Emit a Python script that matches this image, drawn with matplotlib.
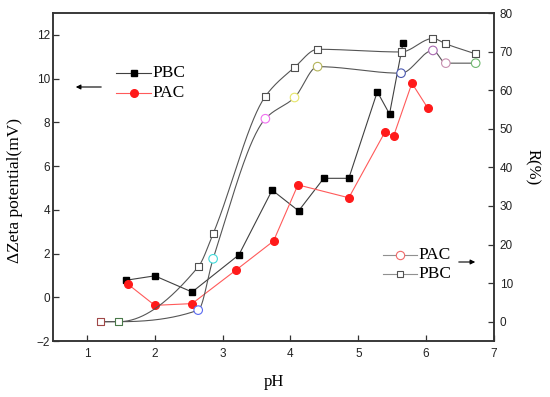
import numpy as np
import matplotlib
matplotlib.use('Agg')
import matplotlib.pyplot as plt
from matplotlib.lines import Line2D

# ---------------------------------------------------------------------------
# Data
# ---------------------------------------------------------------------------
# Delta zeta potential (left axis)
PBC_ZETA_PH = [1.58, 2.00, 2.55, 3.24, 3.73, 4.12, 4.49, 4.86, 5.28, 5.46, 5.66]
PBC_ZETA = [0.78, 0.98, 0.24, 1.94, 4.90, 3.95, 5.44, 5.44, 9.40, 8.38, 11.65]

PAC_ZETA_PH = [1.60, 2.00, 2.55, 3.20, 3.75, 4.11, 4.86, 5.39, 5.52, 5.79, 6.02]
PAC_ZETA = [0.61, -0.37, -0.29, 1.25, 2.57, 5.14, 4.55, 7.54, 7.37, 9.79, 8.67]

# Removal R (right axis)
R_PH = [1.20, 1.47, 2.64, 2.86, 3.63, 4.06, 4.40, 5.63, 6.10, 6.29, 6.73]
PBC_R = [0.0, 0.0, 14.2, 22.8, 58.4, 65.9, 70.6, 69.9, 73.4, 72.0, 69.4]
PAC_R = [0.0, 0.0, 3.0, 16.3, 52.6, 58.1, 66.1, 64.4, 70.3, 67.0, 67.0]

# marker colours used in the original (Origin colour-mapped symbols)
PBC_R_EDGE = ['#a04848', '#4a7a4a', '#505050', '#505050', '#505050', '#505050',
              '#505050', '#505050', '#505050', '#505050', '#505050']
PAC_R_EDGE = ['#a04848', '#4a7a4a', '#5a6af0', '#40dada', '#f070f0', '#e6e66a',
              '#b4b45a', '#4a58b0', '#a868b0', '#c890b0', '#70b870']

# ---------------------------------------------------------------------------
W, H = 550, 397
SERIF = 'Liberation Serif'
SANS = 'Liberation Sans'
RED = '#ff1a1a'
GREY = '#555555'


def fx(px):
    return px / W


def fy(py):
    return 1 - py / H


def pchip(x, y, xs):
    """Monotone cubic interpolation (Fritsch-Carlson)."""
    x = np.asarray(x, float)
    y = np.asarray(y, float)
    h = np.diff(x)
    delta = np.diff(y) / h
    n = len(x)
    d = np.zeros(n)
    for k in range(1, n - 1):
        if delta[k - 1] * delta[k] > 0:
            w1 = 2 * h[k] + h[k - 1]
            w2 = h[k] + 2 * h[k - 1]
            d[k] = (w1 + w2) / (w1 / delta[k - 1] + w2 / delta[k])
    d[0] = delta[0]
    d[-1] = delta[-1]
    ys = np.empty_like(xs)
    for i, xv in enumerate(xs):
        k = min(max(np.searchsorted(x, xv) - 1, 0), n - 2)
        t = (xv - x[k]) / h[k]
        h00 = 2 * t**3 - 3 * t**2 + 1
        h10 = t**3 - 2 * t**2 + t
        h01 = -2 * t**3 + 3 * t**2
        h11 = t**3 - t**2
        ys[i] = h00 * y[k] + h10 * h[k] * d[k] + h01 * y[k + 1] + h11 * h[k] * d[k + 1]
    return ys


fig = plt.figure(figsize=(W / 100, H / 100), dpi=100)
ax = fig.add_axes([fx(53), fy(341), fx(494) - fx(53), fy(13) - fy(341)])
ax2 = ax.twinx()

# zeta potential series
ax.plot(PBC_ZETA_PH, PBC_ZETA, '-', color='#404040', lw=0.8,
        marker='s', ms=5, mfc='black', mec='black', zorder=4)
ax.plot(PAC_ZETA_PH, PAC_ZETA, '-', color='#ff5a5a', lw=0.8,
        marker='o', ms=5.5, mfc=RED, mec=RED, zorder=4)

# removal curves (smooth)
xs = np.linspace(R_PH[0], R_PH[-1], 400)
ax2.plot(xs, pchip(R_PH, PBC_R, xs), color=GREY, lw=0.8, zorder=2)
ax2.plot(xs, pchip(R_PH, PAC_R, xs), color=GREY, lw=0.8, zorder=2)
ax2.scatter(R_PH[2:], PAC_R[2:], s=38, facecolors='white',
            edgecolors=PAC_R_EDGE[2:], linewidths=0.8, zorder=3)
ax2.scatter(R_PH, PBC_R, s=26, marker='s', facecolors='white',
            edgecolors=PBC_R_EDGE, linewidths=0.8, zorder=3)

# axes
ax.set_xlim(0.5, 7)
ax.set_ylim(-2, 13)
ax2.set_ylim(-5, 80)
ax.set_xticks(range(1, 8))
ax.set_yticks(range(-2, 13, 2))
ax2.set_yticks(range(0, 81, 10))

for a in (ax, ax2):
    for s in a.spines.values():
        s.set_linewidth(1.1)
        s.set_color('#333333')
ax.tick_params(axis='both', direction='in', length=4, width=0.9,
               labelsize=8.5, colors='#333333', labelcolor='#222222')
ax.tick_params(axis='y', pad=2)
ax.tick_params(axis='x', pad=5)
ax2.tick_params(axis='y', direction='in', length=4, width=0.9,
                labelsize=8.5, pad=4, colors='#333333', labelcolor='#222222')
for lab in ax.get_xticklabels() + ax.get_yticklabels() + ax2.get_yticklabels():
    lab.set_fontfamily(SANS)

ax.set_xlabel('pH', fontsize=12, family=SERIF)
ax.xaxis.set_label_coords(0.5, -0.1)
ax.set_ylabel('ΔZeta potential(mV)', fontsize=12.5, family=SERIF)
ax.yaxis.set_label_coords(-0.068, 0.46)
ax2.set_ylabel('R(%)', fontsize=12, family=SERIF, rotation=270, va='center')
ax2.yaxis.set_label_coords(1.087, 0.53)

# ---------------------------------------------------------------------------
# hand-placed legends with arrows pointing to the matching axis
# ---------------------------------------------------------------------------
def legend_row(x0, x1, y, label, **mk):
    fig.add_artist(Line2D([fx(x0), fx(x1)], [fy(y), fy(y)], lw=0.8,
                          color=mk.pop('lc'), transform=fig.transFigure))
    fig.add_artist(Line2D([fx((x0 + x1) / 2)], [fy(y)], ls='none',
                          transform=fig.transFigure, **mk))
    fig.text(fx(x1 + 1), fy(y), label, fontsize=12.5, family=SERIF,
             ha='left', va='center')


legend_row(116, 151, 73, 'PBC', lc='#404040', marker='s', ms=5,
           mfc='black', mec='black')
legend_row(116, 151, 93, 'PAC', lc='#ff5a5a', marker='o', ms=5.5,
           mfc=RED, mec=RED)
ax.annotate('', xy=(fx(73), fy(87)), xytext=(fx(104), fy(87)),
            xycoords='figure fraction', textcoords='figure fraction',
            arrowprops=dict(arrowstyle='-|>', color='black', lw=0.8,
                            mutation_scale=7))

legend_row(383, 417, 255, 'PAC', lc='#909090', marker='o', ms=6,
           mfc='white', mec='#f06a6a', mew=0.8)
legend_row(383, 417, 274, 'PBC', lc='#909090', marker='s', ms=5,
           mfc='white', mec='#505050', mew=0.8)
ax.annotate('', xy=(fx(478), fy(262)), xytext=(fx(456), fy(262)),
            xycoords='figure fraction', textcoords='figure fraction',
            arrowprops=dict(arrowstyle='-|>', color='black', lw=0.8,
                            mutation_scale=7))

fig.savefig('out.png', dpi=100)
